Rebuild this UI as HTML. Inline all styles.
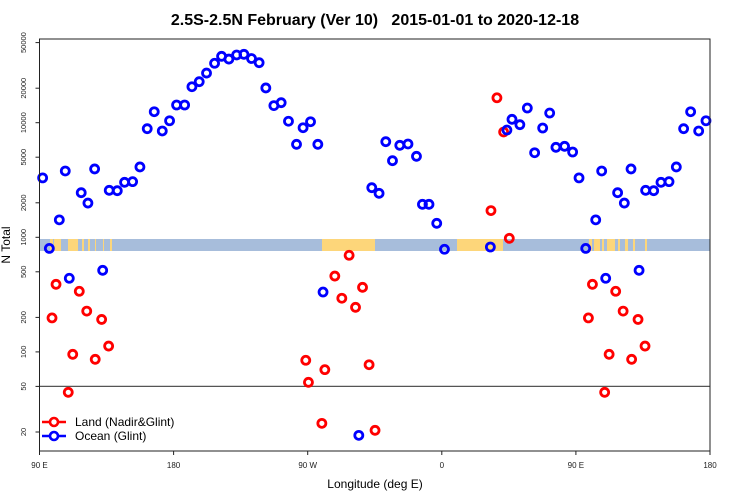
<!DOCTYPE html>
<html><head><meta charset="utf-8"><style>
body{margin:0;background:#fff;}
svg{display:block;font-family:"Liberation Sans",sans-serif;}
</style></head><body>
<svg id="chart" width="750" height="500"></svg>
<script>
const landLon = [98.4,101.1,109.3,112.3,116.7,121.7,127.4,131.7,136.4,268.7,270.5,279.5,281.5,288.2,292.9,297.8,302.1,306.8,311.2,315.2,393.0,397.0,401.5,405.3];
const landVal = [198,389,44.4,95.3,338,227,86.2,192,112.5,84.5,54.3,23.8,70,459,294,697,245,366,77.3,20.7,1710,16500,8300,980];
const oceanLon = [92.1,96.6,103.3,107.3,110.0,118.0,122.5,127.0,132.4,136.8,142.2,147.1,152.5,157.4,162.3,167.0,172.4,177.3,182.0,187.4,192.3,197.2,202.1,207.5,212.2,217.1,222.3,227.2,232.3,237.4,241.9,247.3,252.2,257.1,262.5,266.9,271.9,276.8,280.3,304.3,313.0,317.9,322.4,326.9,331.8,337.3,343.0,347.0,351.4,356.6,361.8,392.6,403.7,407.1,412.4,417.4,422.3,427.7,432.4,436.6,442.4,447.8];
const oceanVal = [3300,800,1420,3790,439,2450,1990,3950,515,2570,2550,3020,3060,4110,8870,12470,8470,10400,14270,14270,20600,22800,27100,33000,37960,35900,39000,39500,36300,33400,20100,14100,14950,10300,6480,9040,10200,6480,333,18.7,2710,2420,6830,4660,6350,6520,5090,1940,1940,1325,786,823,8630,10700,9610,13430,5470,8990,12150,6100,6220,5550];
const xTickVals = [90,180,270,360,450,540];
const xTickLabels = ["90 E","180","90 W","0","90 E","180"];
const yTickVals = [20,50,100,200,500,1000,2000,5000,10000,20000,50000];

const NS="http://www.w3.org/2000/svg";
const svg=document.getElementById('chart');
const X0=39.5,X1=710,Y0=39,Y1=451;
const xs=l=>X0+(l-90)*(X1-X0)/450;
const ys=v=>237.3-(Math.log10(v)-3)*114.6;
function mk(t,a,p){const e=document.createElementNS(NS,t);for(const k in a)e.setAttribute(k,a[k]);(p||svg).appendChild(e);return e;}

let band=mk('rect',{x:X0,y:239,width:X1-X0,height:12,fill:'#a7bddb'});


[[50,3],[54,6],[58,3],[68,10],[82,2],[88,2],[95,1],[103,1],[110,2],[322,53],[457,46],[589,3],[594,6],[602,2],[607,8],[618,2],[625,3],[633,2],[645,2]].forEach(r=>{
  const e=mk('rect',{x:r[0],y:239,width:r[1],height:12,fill:'#fdd67a'});
  
  
});

let rl=mk('line',{x1:X0,x2:X1,y1:ys(50),y2:ys(50),stroke:'#555','stroke-width':1.2});



function plot(lons,vals,col,name){
  for(let i=0;i<lons.length;i++){
    const ls=[lons[i]]; if(lons[i]<=180) ls.push(lons[i]+360);
    ls.forEach(l=>{
      const c=mk('circle',{cx:xs(l),cy:ys(vals[i]),r:4,fill:'none',stroke:col,'stroke-width':2.8});
      
      
    });
  }
}
plot(landLon,landVal,'#f00','land-point');
plot(oceanLon,oceanVal,'#00f','ocean-point');

let fr=mk('rect',{x:X0,y:Y0,width:X1-X0,height:Y1-Y0,fill:'none',stroke:'#222','stroke-width':1});



xTickVals.forEach((v,i)=>{
  const x=xs(v);
  mk('line',{x1:x,x2:x,y1:Y1,y2:Y1+4,stroke:'#222'});
  const t=mk('text',{x:x,y:468,'font-size':8,'text-anchor':'middle',fill:'#222'});
  t.textContent=xTickLabels[i];
  
  
});
yTickVals.forEach(v=>{
  const y=ys(v);
  mk('line',{x1:X0-4,x2:X0,y1:y,y2:y,stroke:'#222'});
  const t=mk('text',{x:0,y:0,'font-size':7.5,'text-anchor':'middle',fill:'#222',transform:`translate(26,${y}) rotate(-90)`});
  t.textContent=String(v);
  
  
});

let tt=mk('text',{x:375,y:25,'font-size':16,'font-weight':'bold','text-anchor':'middle',fill:'#000',style:'white-space:pre'});
tt.textContent='2.5S-2.5N February (Ver 10)   2015-01-01 to 2020-12-18';


let xl=mk('text',{x:375,y:488,'font-size':12,'text-anchor':'middle',fill:'#000'});
xl.textContent='Longitude (deg E)';


let yl=mk('text',{x:0,y:0,'font-size':12,'text-anchor':'middle',fill:'#000',transform:'translate(10,245) rotate(-90)'});
yl.textContent='N Total';



[['Land (Nadir&Glint)','#f00',422],['Ocean (Glint)','#00f',436]].forEach(l=>{
  const g=mk('g',{});
  
  
  mk('line',{x1:42,x2:66,y1:l[2],y2:l[2],stroke:l[1],'stroke-width':2.6},g);
  mk('circle',{cx:54,cy:l[2],r:4,fill:'#fff',stroke:l[1],'stroke-width':2.6},g);
  const t=mk('text',{x:75,y:l[2]+4,'font-size':12,fill:'#000'},g);
  t.textContent=l[0];
});
</script>
</body></html>
